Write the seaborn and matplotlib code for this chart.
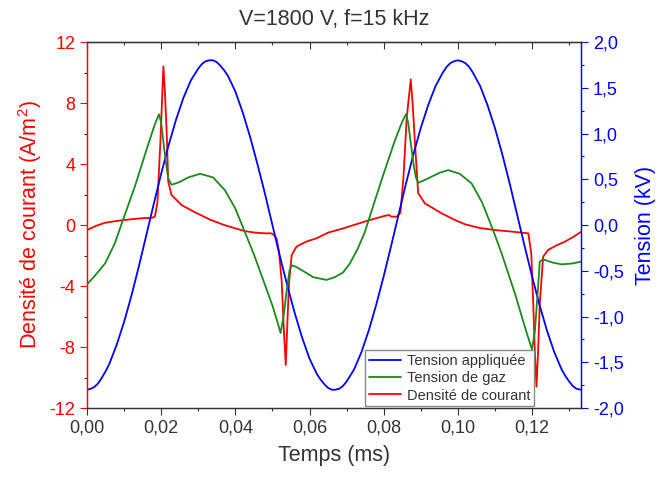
import matplotlib
matplotlib.use("Agg")
import numpy as np
import pandas as pd
import matplotlib.pyplot as plt
import seaborn as sns
from matplotlib.ticker import MultipleLocator, FuncFormatter

# Tension appliquée (kV)
t_app = [0.000, 0.001, 0.002, 0.003, 0.004, 0.005, 0.006, 0.008, 0.010, 0.012, 0.014, 0.016, 0.018,
         0.020, 0.022, 0.024, 0.026, 0.028, 0.030, 0.031, 0.032, 0.033, 0.034, 0.035, 0.036, 0.037, 0.038,
         0.040, 0.042, 0.044, 0.046, 0.048, 0.050, 0.052, 0.054, 0.056, 0.058,
         0.060, 0.062, 0.063, 0.064, 0.065, 0.066, 0.067, 0.068, 0.069, 0.070, 0.072, 0.074, 0.076, 0.078,
         0.080, 0.082, 0.084, 0.086, 0.088, 0.090, 0.092, 0.094, 0.096, 0.097, 0.098,
         0.099, 0.100, 0.101, 0.102, 0.103, 0.104, 0.106, 0.108, 0.110, 0.112, 0.114, 0.116, 0.118,
         0.120, 0.122, 0.124, 0.126, 0.128, 0.129, 0.130, 0.131, 0.132, 0.1332]
v_app = [-1.80, -1.79, -1.77, -1.73, -1.67, -1.60, -1.52, -1.31, -1.06, -0.77, -0.45, -0.11, 0.23,
         0.56, 0.87, 1.15, 1.39, 1.58, 1.71, 1.76, 1.79, 1.80, 1.80, 1.78, 1.74, 1.69, 1.63,
         1.46, 1.23, 0.96, 0.66, 0.34, 0.00, -0.34, -0.66, -0.96, -1.23,
         -1.46, -1.63, -1.69, -1.74, -1.78, -1.80, -1.80, -1.79, -1.76, -1.71, -1.58, -1.39, -1.15, -0.87,
         -0.56, -0.23, 0.11, 0.45, 0.77, 1.06, 1.31, 1.52, 1.67, 1.73, 1.77,
         1.79, 1.80, 1.79, 1.77, 1.73, 1.67, 1.52, 1.31, 1.06, 0.77, 0.45, 0.11, -0.23,
         -0.56, -0.87, -1.15, -1.39, -1.58, -1.65, -1.71, -1.76, -1.79, -1.80]

# Tension de gaz (kV)
t_gaz = [0.0000, 0.0022, 0.0049, 0.0075, 0.0094, 0.0129, 0.0165, 0.0183, 0.0194, 0.0200,
         0.0206, 0.0213, 0.0219, 0.0228, 0.0250, 0.0273, 0.0305, 0.0340, 0.0372, 0.0400,
         0.0424, 0.0450, 0.0475, 0.0500, 0.0515, 0.0522, 0.0530, 0.0538, 0.0546, 0.0552,
         0.0565, 0.0590, 0.0610, 0.0646, 0.0668, 0.0690, 0.0709, 0.0730, 0.0749, 0.0775,
         0.0799, 0.0830, 0.0850, 0.0860, 0.0866, 0.0873, 0.0880, 0.0887, 0.0893, 0.0920,
         0.0950, 0.0974, 0.1005, 0.1037, 0.1065, 0.1095, 0.1118, 0.1154, 0.1185, 0.1200,
         0.1208, 0.1215, 0.1221, 0.1230, 0.1255, 0.1280, 0.1310, 0.1333]
v_gaz = [-0.65, -0.55, -0.42, -0.20, 0.02, 0.42, 0.88, 1.10, 1.21, 1.12,
         0.91, 0.68, 0.51, 0.44, 0.47, 0.52, 0.56, 0.52, 0.38, 0.18,
         -0.06, -0.32, -0.60, -0.88, -1.08, -1.18, -1.00, -0.73, -0.50, -0.44,
         -0.46, -0.52, -0.57, -0.60, -0.57, -0.52, -0.42, -0.26, -0.08, 0.25,
         0.55, 0.92, 1.13, 1.21, 1.12, 0.90, 0.68, 0.52, 0.46, 0.51,
         0.57, 0.60, 0.56, 0.455, 0.25, -0.055, -0.31, -0.75, -1.17, -1.36,
         -1.15, -0.75, -0.40, -0.375, -0.41, -0.43, -0.42, -0.40]

# Densité de courant (A/m2)
t_cur = [0.0000, 0.0025, 0.0049, 0.0084, 0.0120, 0.0150, 0.0175, 0.0183, 0.0190, 0.0198,
         0.0206, 0.0210, 0.0215, 0.0219, 0.0228, 0.0255, 0.0290, 0.0332, 0.0370, 0.0400,
         0.0426, 0.0453, 0.0484, 0.0495, 0.0502, 0.0511, 0.0518, 0.0525, 0.0531, 0.0536,
         0.0541, 0.0545, 0.0552, 0.0565, 0.0590, 0.0619, 0.0650, 0.0691, 0.0730, 0.0763,
         0.0803, 0.0815, 0.0820, 0.0835, 0.0845, 0.0853, 0.0862, 0.0873, 0.0878, 0.0884,
         0.0893, 0.0911, 0.0956, 0.0992, 0.1019, 0.1060, 0.1100, 0.1140, 0.1172, 0.1190,
         0.1198, 0.1203, 0.1208, 0.1212, 0.1216, 0.1221, 0.1230, 0.1243, 0.1265, 0.1288,
         0.1310, 0.1333]
j_cur = [-0.33, -0.05, 0.15, 0.28, 0.38, 0.45, 0.47, 0.55, 1.5, 5.5,
         10.4, 8.8, 6.0, 2.84, 1.97, 1.31, 0.85, 0.35, 0.0, -0.22,
         -0.40, -0.50, -0.55, -0.54, -0.61, -0.87, -1.8, -3.7, -7.0, -9.18,
         -6.0, -3.7, -1.97, -1.42, -1.10, -0.87, -0.50, -0.22, 0.08, 0.33,
         0.60, 0.66, 0.55, 0.54, 0.80, 3.0, 7.0, 9.55, 8.0, 5.5,
         2.1, 1.42, 0.77, 0.33, 0.05, -0.20, -0.33, -0.42, -0.50, -0.55,
         -1.86, -5.0, -8.5, -10.6, -8.5, -5.1, -2.08, -1.64, -1.35, -1.10,
         -0.80, -0.44]

df_app = pd.DataFrame({'t': t_app, 'v': v_app})
df_gaz = pd.DataFrame({'t': t_gaz, 'v': v_gaz})
df_cur = pd.DataFrame({'t': t_cur, 'j': j_cur})

sns.set_style("ticks")
plt.rcParams['font.family'] = ['Liberation Sans', 'DejaVu Sans']
plt.rcParams['mathtext.default'] = 'regular'
grey = '#333333'

fig, ax = plt.subplots(figsize=(6.59, 4.79), dpi=100)
fig.subplots_adjust(left=0.132, right=0.8816, bottom=0.1482, top=0.9123)
ax2 = ax.twinx()

sns.lineplot(data=df_cur, x='t', y='j', ax=ax, color='red', lw=1.3, sort=False)
sns.lineplot(data=df_app, x='t', y='v', ax=ax2, color='blue', lw=1.3, sort=False)
sns.lineplot(data=df_gaz, x='t', y='v', ax=ax2, color='#1a8a1a', lw=1.3, sort=False)

ax.set_xlim(0, 0.1332)
ax.set_ylim(-12, 12)
ax2.set_ylim(-2, 2)

comma = lambda fmt: FuncFormatter(lambda v, p: (fmt % v).replace('.', ','))
ax.xaxis.set_major_locator(MultipleLocator(0.02))
ax.xaxis.set_minor_locator(MultipleLocator(0.01))
ax.xaxis.set_major_formatter(comma('%.2f'))
ax.yaxis.set_major_locator(MultipleLocator(4))
ax.yaxis.set_minor_locator(MultipleLocator(2))
ax.yaxis.set_major_formatter(FuncFormatter(lambda v, p: '%d' % v))
ax2.yaxis.set_major_locator(MultipleLocator(0.5))
ax2.yaxis.set_minor_locator(MultipleLocator(0.25))
ax2.yaxis.set_major_formatter(comma('%.1f'))

ax.tick_params(axis='both', which='major', direction='out', length=5, width=0.8, labelsize=13)
ax.tick_params(axis='both', which='minor', direction='out', length=2.5, width=0.8)
ax.tick_params(axis='x', colors=grey)
ax.tick_params(axis='y', colors='red')
ax2.tick_params(axis='y', which='major', direction='out', length=5, width=0.8, labelsize=13, colors='blue')
ax2.tick_params(axis='y', which='minor', direction='out', length=2.5, width=0.8, colors='blue')

top = ax.secondary_xaxis('top')
top.xaxis.set_major_locator(MultipleLocator(0.02))
top.xaxis.set_minor_locator(MultipleLocator(0.01))
top.tick_params(which='major', direction='in', length=5, width=0.8, labeltop=False, colors=grey)
top.tick_params(which='minor', direction='in', length=2.5, width=0.8, colors=grey)
top.spines['top'].set_color(grey)

for a in (ax, ax2):
    a.spines['left'].set_color('red')
    a.spines['right'].set_color('blue')
    a.spines['bottom'].set_color(grey)
    a.spines['top'].set_color(grey)
    for s in a.spines.values():
        s.set_linewidth(0.9)

ax.set_xlabel('Temps (ms)', fontsize=15.5, color=grey, labelpad=6)
ax.set_ylabel('Densité de courant (A/m$^2$)', fontsize=15.5, color='red', labelpad=4)
ax2.set_ylabel('Tension (kV)', fontsize=15.5, color='blue', labelpad=8)
ax.set_title('V=1800 V, f=15 kHz', fontsize=15.5, color=grey, pad=12)

handles = ax2.get_lines() + ax.get_lines()
labels = ['Tension appliquée', 'Tension de gaz', 'Densité de courant']
leg = ax2.legend(handles[:3], labels, loc='lower left', bbox_to_anchor=(0.563, 0.005),
                 fontsize=10.5, frameon=True, fancybox=False, framealpha=1,
                 edgecolor='#888888', borderpad=0.25, labelspacing=0.22,
                 handlelength=2.2, handletextpad=0.4, borderaxespad=0)
for txt in leg.get_texts():
    txt.set_color(grey)

fig.savefig('out.png', dpi=100)
